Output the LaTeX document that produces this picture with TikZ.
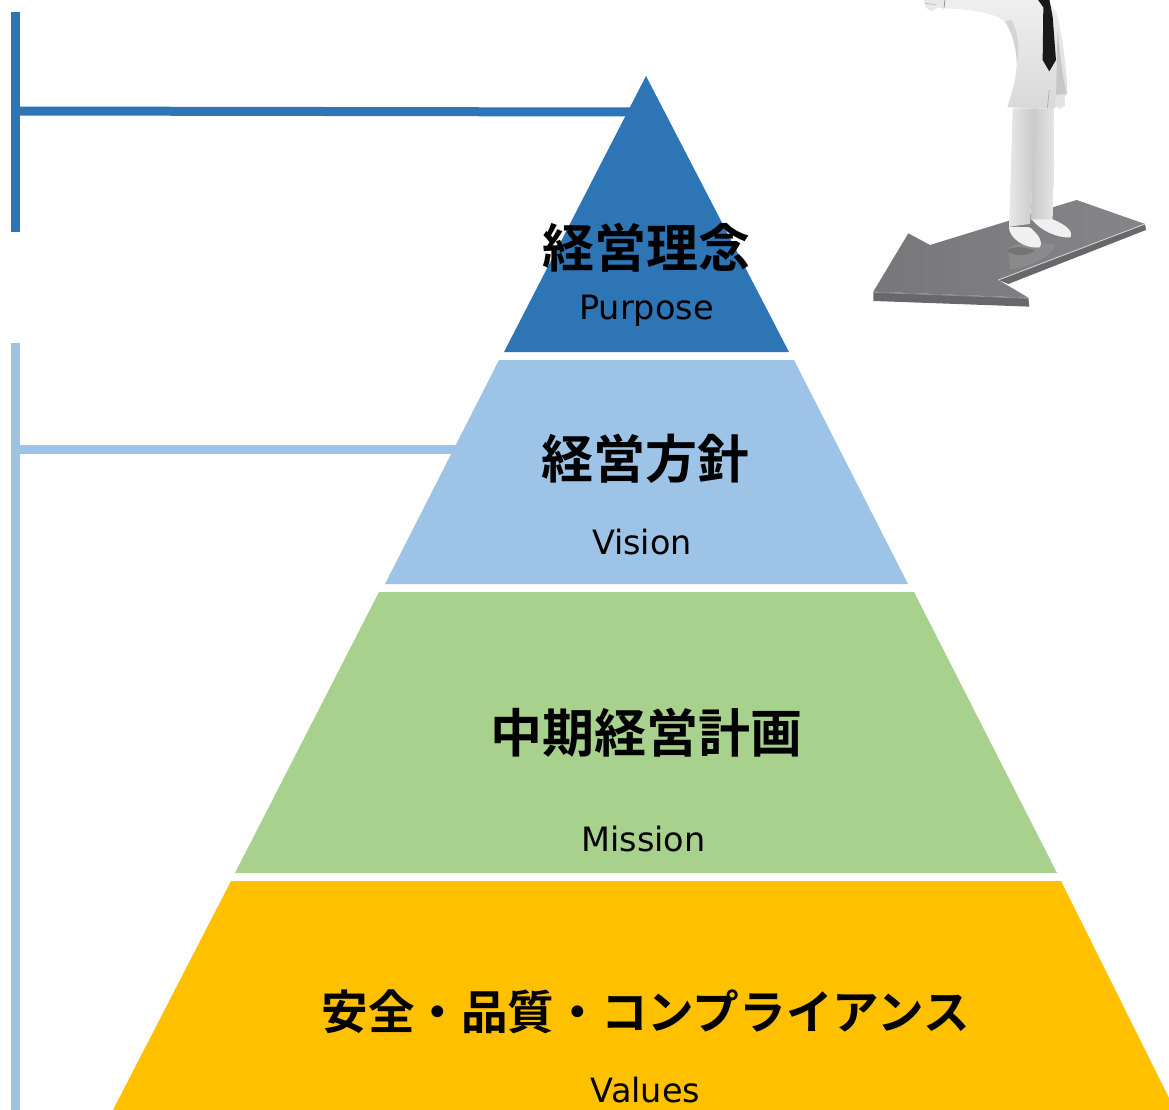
\documentclass[tikz,border=0pt]{standalone}
\usepackage{fontspec}
\setmainfont{DejaVu Sans}
\newfontfamily\jpbold[BoldFont={Noto Sans CJK JP Bold}]{Noto Sans CJK JP}
\definecolor{tierblue}{HTML}{2E75B6}
\definecolor{tiersky}{HTML}{9DC3E6}
\definecolor{tiergreen}{HTML}{A9D18E}
\definecolor{tiergold}{HTML}{FFC000}
\definecolor{arrowface}{HTML}{85858A}
\definecolor{arrowfaceleft}{HTML}{77777A}
\definecolor{arrowedge}{HTML}{68686A}
\tikzset{
  tierlabel/.style={inner sep=0pt,text=black,anchor=center},
  jplarge/.style={tierlabel,font={\jpbold\bfseries\fontsize{52}{56}\selectfont}},
  jpsmall/.style={tierlabel,font={\jpbold\bfseries\fontsize{46.6}{50}\selectfont}},
  latinlabel/.style={tierlabel,font={\fontsize{33.5}{38}\selectfont}},
  bar/.style={line width=9pt,line cap=butt},
  suit/.style={draw=none},
}
\begin{document}
\begin{tikzpicture}[x=1pt,y=-1pt]
\useasboundingbox (0,0) rectangle (1169,1110);
\clip (0,0) rectangle (1169,1110);

% pyramid tiers
\coordinate (apex) at (646,76);
\fill[tierblue] (apex) -- (789,352) -- (504,352) -- cycle;
\fill[tiersky] (499,360) -- (794,360) -- (908,584) -- (385,584) -- cycle;
\fill[tiergreen] (379,592) -- (914,592) -- (1057,873) -- (235,873) -- cycle;
\fill[tiergold] (231,881) -- (1061,881) -- (1175,1110) -- (113,1110) -- cycle;

% brackets on the left and their links to the tiers
\coordinate (purposeTop) at (15.5,12);
\coordinate (purposeBottom) at (15.5,232);
\coordinate (purposeJoin) at (15.5,111);
\coordinate (purposeEnd) at (632,112);
\coordinate (visionTop) at (15.5,343);
\coordinate (visionBottom) at (15.5,1110);
\coordinate (visionJoin) at (15.5,449.5);
\coordinate (visionEnd) at (462,449.5);
\draw[bar,tierblue] (purposeTop) -- (purposeBottom);
\draw[bar,tierblue] (purposeJoin) -- (purposeEnd);
\draw[bar,tiersky] (visionTop) -- (visionBottom);
\draw[bar,tiersky] (visionJoin) -- (visionEnd);

% tier labels
\node[jplarge] (purposeJa) at (646,248) {経営理念};
\node[latinlabel] (purposeEn) at (646.5,311) {Purpose};
\node[jplarge] (visionJa) at (645,459) {経営方針};
\node[latinlabel] (visionEn) at (642,542) {Vision};
\node[jplarge] (missionJa) at (646,733) {中期経営計画};
\node[latinlabel] (missionEn) at (643.5,839) {Mission};
\node[jpsmall] (valuesJa) at (645.5,1012) {安全・品質・コンプライアンス};
\node[latinlabel] (valuesEn) at (645.5,1090) {Values};

% figure standing on the arrow
\begin{scope}[shift={(860,0)},x=0.3333pt,y=-0.3333pt]
  % arrow: front edge, side edge, top face
  \fill[arrowedge] (40,875) -- (505,893) -- (508,920) -- (40,903) -- cycle;
  \fill[arrowedge] (415,840) -- (855,672) -- (858,690) -- (445,852) -- cycle;
  \shade[left color=arrowfaceleft,right color=arrowface]
    (40,875) -- (145,700) -- (210,735) -- (650,600) -- (855,672)
    -- (415,840) -- (505,893) -- cycle;
  \draw[black!18,line width=0.9pt] (415,840) -- (855,672);
  \draw[black!42,line width=0.7pt] (40,877) -- (505,895);
  % reflection under the shoes
  \fill[black!42,opacity=.55] (445,745) .. controls (470,725) and (560,725) .. (585,735)
    .. controls (580,770) and (500,805) .. (450,808) -- cycle;
  \fill[black!60,opacity=.6] (445,748) .. controls (470,735) and (510,745) .. (525,752)
    .. controls (500,770) and (465,770) .. (445,755) -- cycle;
  % trouser legs
  \shade[suit,left color=black!9,right color=black!22]
    (458,325) .. controls (455,450) and (450,580) .. (447,680)
    -- (510,672) .. controls (515,560) and (525,450) .. (530,325) -- cycle;
  \shade[suit,left color=black!22,right color=black!10]
    (525,325) .. controls (520,450) and (515,560) .. (512,660)
    -- (578,660) .. controls (580,560) and (582,450) .. (580,325) -- cycle;
  % shoes
  \fill[black!6] (515,658) .. controls (540,690) and (590,715) .. (632,712)
    .. controls (640,695) and (620,675) .. (578,658) -- cycle;
  \fill[black!6] (447,680) .. controls (445,710) and (490,748) .. (540,742)
    .. controls (550,720) and (530,700) .. (510,682) -- cycle;
  % jacket with the outstretched arm
  \shade[suit,top color=black!6,bottom color=black!15]
    (255,-2) -- (255,25) .. controls (320,28) and (400,35) .. (435,65)
    .. controls (458,100) and (470,150) .. (470,190)
    .. controls (468,250) and (452,285) .. (442,322)
    -- (580,326) -- (588,320) -- (622,280)
    .. controls (620,200) and (605,90) .. (590,40)
    -- (565,-2) -- cycle;
  % sleeve of the lowered arm
  \fill[black!22] (592,90) .. controls (600,150) and (606,230) .. (620,282)
    -- (588,285) .. controls (590,220) and (592,150) .. (592,90) -- cycle;
  % shading along the raised arm
  \fill[black!22,opacity=.6] (435,65) .. controls (458,100) and (470,150) .. (470,190)
    .. controls (480,150) and (475,100) .. (455,60) -- cycle;
  % hands
  \fill[black!9] (190,-2) -- (197,22) -- (214,35) -- (232,22) -- (250,25)
    -- (258,-2) -- cycle;
  \draw[black!30,line width=0.5pt] (195,10) -- (228,14);
  \draw[black!45,line width=0.7pt] (255,-2) -- (252,26);
  \fill[black!11] (588,285) -- (612,283) -- (616,315) -- (598,328) -- (586,315) -- cycle;
  % jacket vent
  \draw[black!35,line width=0.6pt] (568,270) -- (562,325);
  % tie
  \fill[black!90] (533,-2) -- (550,22) -- (548,180) -- (568,214) -- (588,180)
    -- (578,50) -- (568,-2) -- cycle;
\end{scope}
\end{tikzpicture}
\end{document}
